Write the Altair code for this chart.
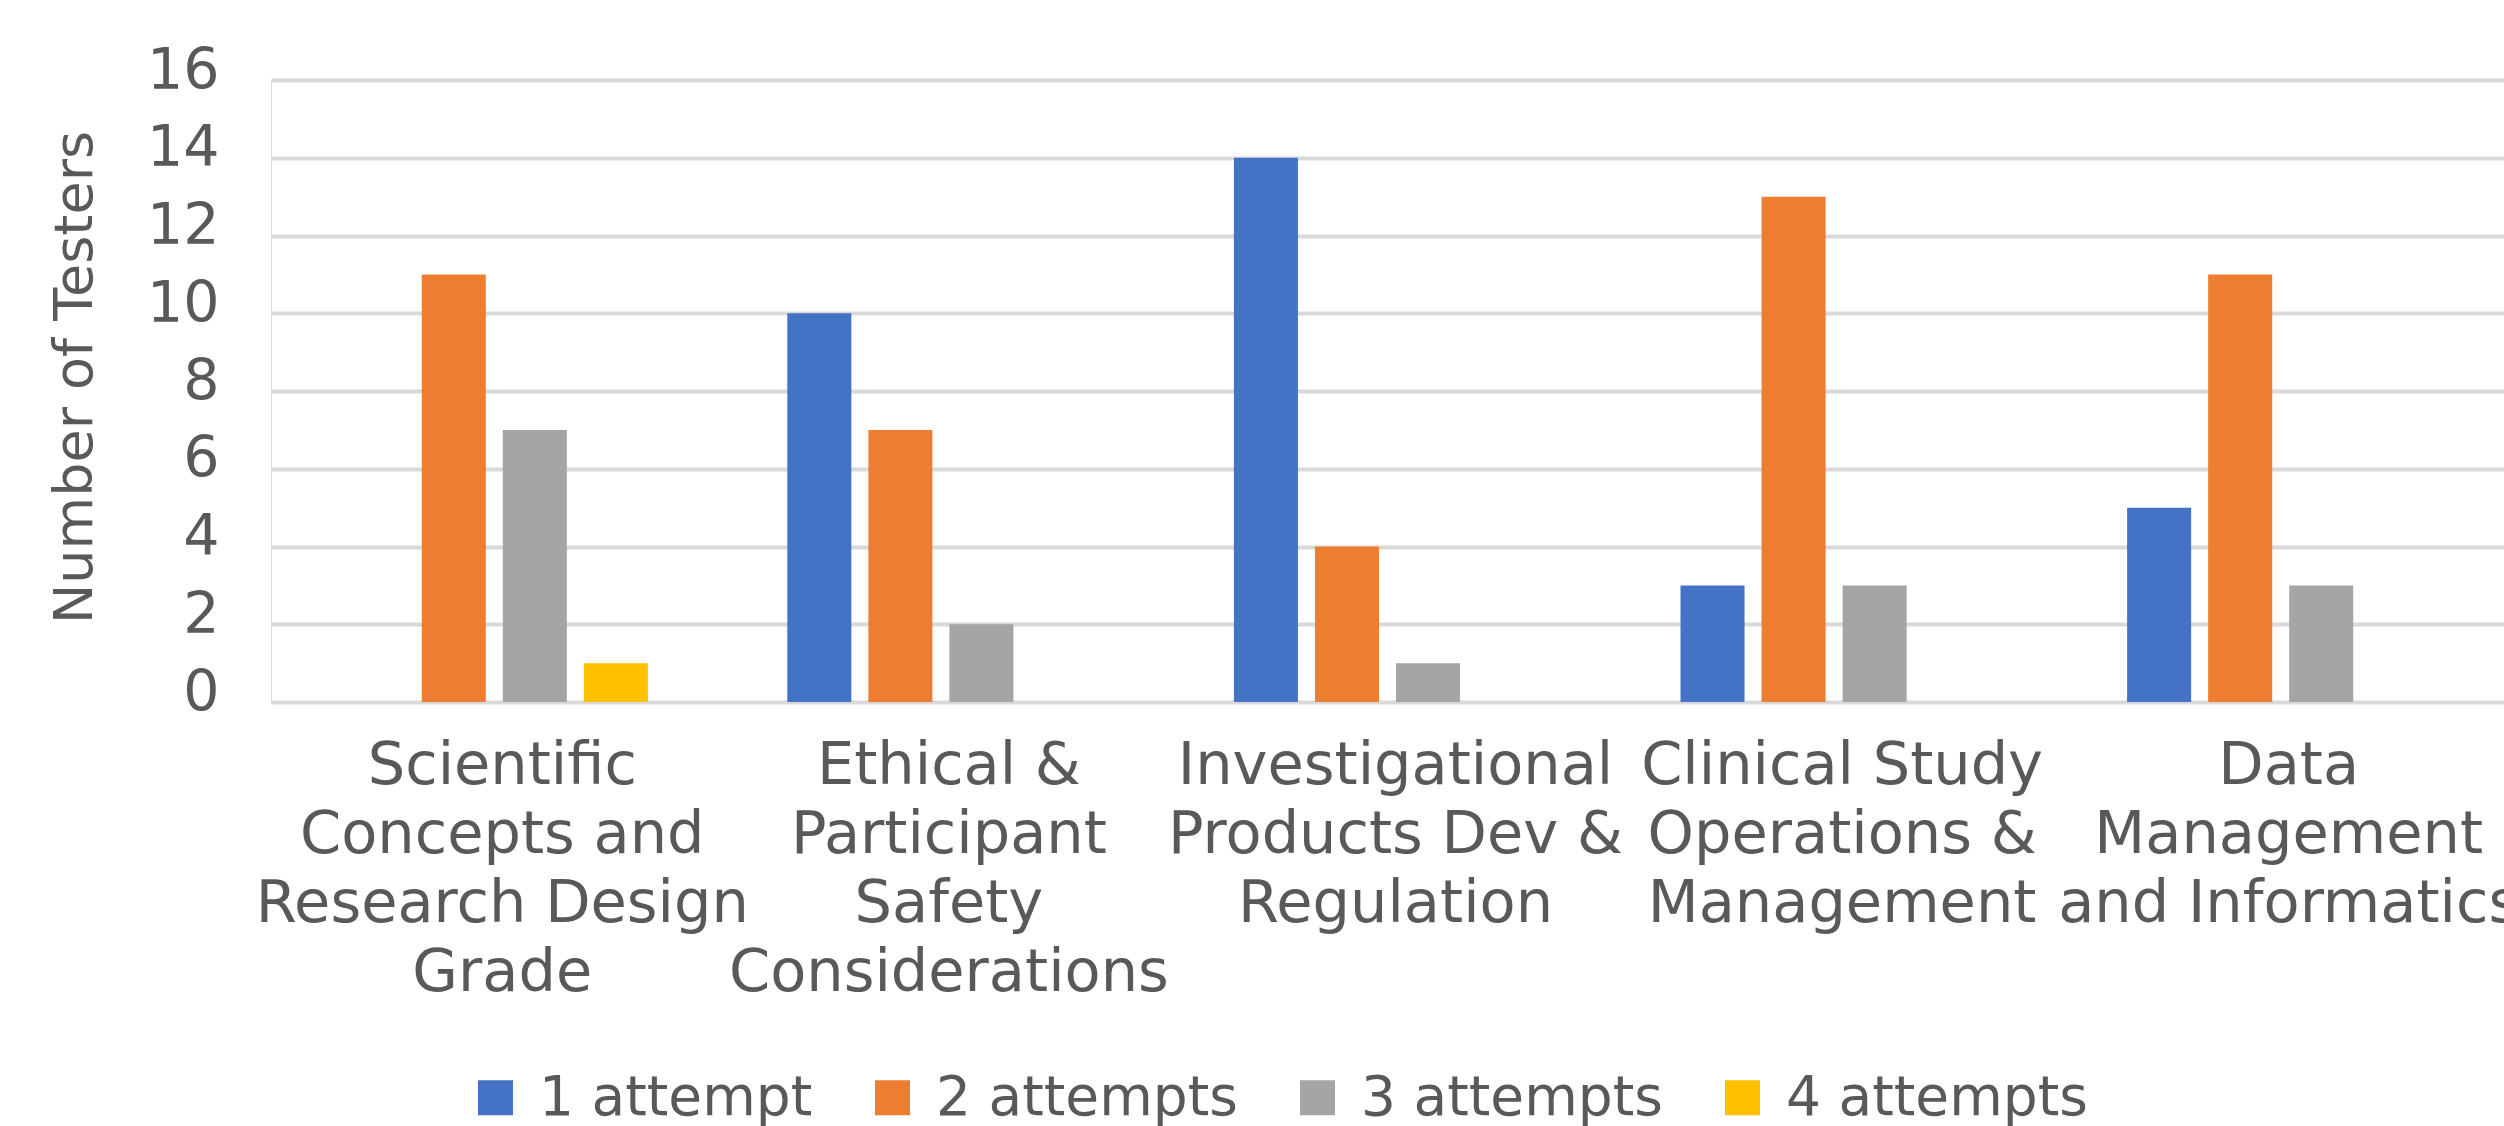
import altair as alt
import pandas as pd

categories = [
    "Scientific|Concepts and|Research Design|Grade",
    "Ethical &|Participant|Safety|Considerations",
    "Investigational|Products Dev &|Regulation",
    "Clinical Study|Operations &|Management",
    "Data|Management|and Informatics",
]
series = ["1 attempt", "2 attempts", "3 attempts", "4 attempts"]
one_attempt = [0, 10, 14, 3, 5]
two_attempts = [11, 7, 4, 13, 11]
three_attempts = [7, 2, 1, 3, 3]
four_attempts = [1, 0, 0, 0, 0]
colors = ["#4472C4", "#ED7D31", "#A5A5A5", "#FFC000"]
y_ticks = [0, 2, 4, 6, 8, 10, 12, 14, 16]

rows = []
for s, vals in zip(series, [one_attempt, two_attempts, three_attempts, four_attempts]):
    for c, v in zip(categories, vals):
        rows.append({"category": c, "attempts": s, "count": v})
df = pd.DataFrame(rows)

FONT = "DejaVu Sans"
TXT = "#595959"

chart = alt.Chart(df).mark_bar().encode(
    x=alt.X(
        "category:N",
        sort=categories,
        scale=alt.Scale(paddingInner=0, paddingOuter=0),
        axis=alt.Axis(
            title=None,
            labelExpr="split(datum.label, '|')",
            labelAngle=0,
            labelFont=FONT,
            labelFontSize=59,
            labelLineHeight=69,
            labelColor=TXT,
            labelPadding=34,
            labelOffset=8,
            labelLimit=2000,
            labelOverlap=False,
            labelBound=False,
            ticks=False,
            domain=False,
            grid=False,
        ),
    ),
    xOffset=alt.XOffset(
        "attempts:N",
        sort=series,
        scale=alt.Scale(paddingInner=0.21, paddingOuter=0.86),
    ),
    y=alt.Y(
        "count:Q",
        scale=alt.Scale(domain=[0, 16], nice=False),
        axis=alt.Axis(
            title="Number of Testers",
            titleFont=FONT,
            titleFontSize=54,
            titleFontWeight="normal",
            titleColor=TXT,
            titleAngle=270,
            titleX=-196,
            titleY=297,
            titleAlign="center",
            titleBaseline="middle",
            values=y_ticks,
            labelFont=FONT,
            labelFontSize=57,
            labelColor=TXT,
            labelPadding=52,
            labelOffset=-9,
            ticks=False,
            domain=False,
            grid=True,
            gridColor="#D9D9D9",
            gridWidth=4,
        ),
    ),
    color=alt.Color(
        "attempts:N",
        sort=series,
        scale=alt.Scale(domain=series, range=colors),
        legend=alt.Legend(
            title=None,
            orient="none",
            direction="horizontal",
            legendX=197,
            legendY=990,
            symbolType="square",
            symbolSize=1225,
            symbolStrokeWidth=0,
            symbolOpacity=1,
            labelFont=FONT,
            labelFontSize=55,
            labelColor=TXT,
            labelOffset=16,
            labelLimit=2000,
            columnPadding=52,
            padding=0,
        ),
    ),
).properties(
    width=2233,
    height=622,
    autosize=alt.AutoSizeParams(type="none"),
    padding={"left": 271, "top": 80, "right": 0, "bottom": 424},
).configure_view(stroke=None).configure(background="white")

chart.save("out.html", embed_options={"renderer": "svg", "actions": False})
